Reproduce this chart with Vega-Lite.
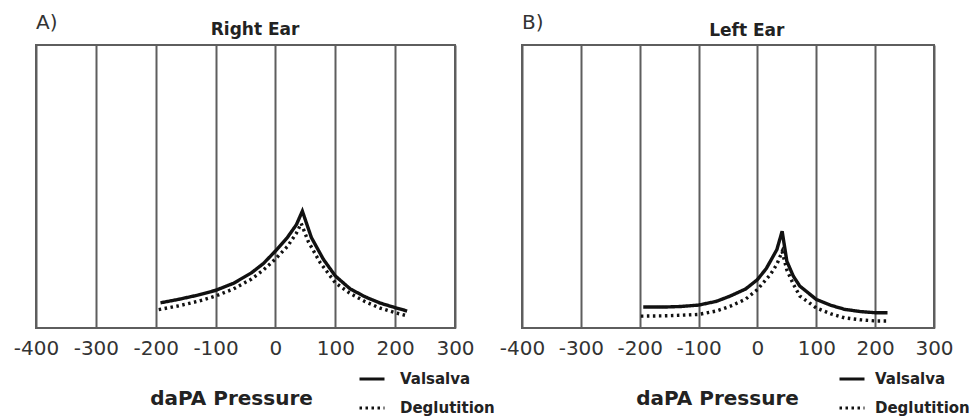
{
  "$schema": "https://vega.github.io/schema/vega-lite/v6.json",
  "autosize": {"type": "pad"},
  "padding": {"left": 12, "top": 12, "right": 0, "bottom": 0},
  "background": "white",
  "bounds": "flush",
  "config": {
    "view": {"stroke": "#5e5e5e", "strokeWidth": 2},
    "font": "DejaVu Sans"
  },
  "datasets": {
    "right": [
      {"p": -192, "v": 8.9, "s": "Valsalva"},
      {"p": -160, "v": 10.2, "s": "Valsalva"},
      {"p": -130, "v": 11.6, "s": "Valsalva"},
      {"p": -100, "v": 13.3, "s": "Valsalva"},
      {"p": -70, "v": 15.8, "s": "Valsalva"},
      {"p": -40, "v": 19.5, "s": "Valsalva"},
      {"p": -20, "v": 22.8, "s": "Valsalva"},
      {"p": 0, "v": 27.2, "s": "Valsalva"},
      {"p": 20, "v": 32.0, "s": "Valsalva"},
      {"p": 35, "v": 36.5, "s": "Valsalva"},
      {"p": 45, "v": 41.3, "s": "Valsalva"},
      {"p": 60, "v": 32.0, "s": "Valsalva"},
      {"p": 80, "v": 24.3, "s": "Valsalva"},
      {"p": 100, "v": 18.4, "s": "Valsalva"},
      {"p": 125, "v": 13.8, "s": "Valsalva"},
      {"p": 150, "v": 11.0, "s": "Valsalva"},
      {"p": 175, "v": 8.8, "s": "Valsalva"},
      {"p": 200, "v": 7.2, "s": "Valsalva"},
      {"p": 220, "v": 6.0, "s": "Valsalva"},
      {"p": -195, "v": 6.5, "s": "Deglutition"},
      {"p": -160, "v": 7.9, "s": "Deglutition"},
      {"p": -130, "v": 9.4, "s": "Deglutition"},
      {"p": -100, "v": 11.3, "s": "Deglutition"},
      {"p": -70, "v": 13.8, "s": "Deglutition"},
      {"p": -40, "v": 17.3, "s": "Deglutition"},
      {"p": -20, "v": 20.5, "s": "Deglutition"},
      {"p": 0, "v": 24.4, "s": "Deglutition"},
      {"p": 20, "v": 28.8, "s": "Deglutition"},
      {"p": 35, "v": 33.5, "s": "Deglutition"},
      {"p": 43, "v": 37.0, "s": "Deglutition"},
      {"p": 55, "v": 30.5, "s": "Deglutition"},
      {"p": 75, "v": 23.0, "s": "Deglutition"},
      {"p": 100, "v": 16.0, "s": "Deglutition"},
      {"p": 125, "v": 12.2, "s": "Deglutition"},
      {"p": 150, "v": 9.3, "s": "Deglutition"},
      {"p": 175, "v": 7.0, "s": "Deglutition"},
      {"p": 200, "v": 5.4, "s": "Deglutition"},
      {"p": 222, "v": 4.2, "s": "Deglutition"}
    ],
    "left": [
      {"p": -194, "v": 7.4, "s": "Valsalva"},
      {"p": -160, "v": 7.4, "s": "Valsalva"},
      {"p": -130, "v": 7.6, "s": "Valsalva"},
      {"p": -100, "v": 8.1, "s": "Valsalva"},
      {"p": -70, "v": 9.4, "s": "Valsalva"},
      {"p": -46, "v": 11.3, "s": "Valsalva"},
      {"p": -20, "v": 13.8, "s": "Valsalva"},
      {"p": 0, "v": 17.1, "s": "Valsalva"},
      {"p": 15, "v": 21.0, "s": "Valsalva"},
      {"p": 22, "v": 23.6, "s": "Valsalva"},
      {"p": 33, "v": 27.7, "s": "Valsalva"},
      {"p": 42, "v": 34.2, "s": "Valsalva"},
      {"p": 50, "v": 23.6, "s": "Valsalva"},
      {"p": 61, "v": 18.3, "s": "Valsalva"},
      {"p": 72, "v": 14.8, "s": "Valsalva"},
      {"p": 100, "v": 10.1, "s": "Valsalva"},
      {"p": 125, "v": 8.0, "s": "Valsalva"},
      {"p": 148, "v": 6.6, "s": "Valsalva"},
      {"p": 175, "v": 5.8, "s": "Valsalva"},
      {"p": 200, "v": 5.4, "s": "Valsalva"},
      {"p": 221, "v": 5.4, "s": "Valsalva"},
      {"p": -198, "v": 4.2, "s": "Deglutition"},
      {"p": -160, "v": 4.3, "s": "Deglutition"},
      {"p": -130, "v": 4.5, "s": "Deglutition"},
      {"p": -100, "v": 4.8, "s": "Deglutition"},
      {"p": -70, "v": 6.0, "s": "Deglutition"},
      {"p": -46, "v": 7.7, "s": "Deglutition"},
      {"p": -20, "v": 10.2, "s": "Deglutition"},
      {"p": 0, "v": 13.6, "s": "Deglutition"},
      {"p": 22, "v": 18.9, "s": "Deglutition"},
      {"p": 33, "v": 22.5, "s": "Deglutition"},
      {"p": 42, "v": 27.0, "s": "Deglutition"},
      {"p": 50, "v": 20.5, "s": "Deglutition"},
      {"p": 61, "v": 15.5, "s": "Deglutition"},
      {"p": 72, "v": 11.3, "s": "Deglutition"},
      {"p": 100, "v": 7.1, "s": "Deglutition"},
      {"p": 125, "v": 5.0, "s": "Deglutition"},
      {"p": 148, "v": 3.6, "s": "Deglutition"},
      {"p": 175, "v": 2.9, "s": "Deglutition"},
      {"p": 200, "v": 2.5, "s": "Deglutition"},
      {"p": 222, "v": 2.5, "s": "Deglutition"}
    ]
  },
  "spacing": 67,
  "resolve": {"legend": {"strokeDash": "independent"}, "scale": {"x": "independent", "y": "independent", "strokeDash": "independent"}},
  "hconcat": [
    {
      "width": 419,
      "height": 283,
      "layer": [
        {
          "data": {"name": "right"},
          "mark": {"type": "line", "color": "#111", "strokeWidth": 3.4},
          "encoding": {
            "x": {"field": "p", "type": "quantitative", "scale": {"domain": [-400, 300], "nice": false, "zero": false},
              "axis": {"values": [-400, -300, -200, -100, 0, 100, 200, 300], "labelExpr": "datum.value < 0 ? '-' + abs(datum.value) : '' + datum.value", "grid": true, "gridColor": "#5e5e5e", "gridWidth": 2, "gridOpacity": 1, "ticks": false, "domain": false, "labelFont": "DejaVu Sans", "labelFontSize": 20, "labelColor": "#333", "labelPadding": 10, "labelFlush": false, "labelOverlap": false, "title": "daPA Pressure", "titleFont": "DejaVu Sans", "titleFontSize": 20, "titleFontWeight": "bold", "titleColor": "#222", "titleX": 195, "titleY": 76, "titleAlign": "center", "titleBaseline": "alphabetic"}},
            "y": {"field": "v", "type": "quantitative", "scale": {"domain": [0, 100], "nice": false}, "axis": null},
            "strokeDash": {"field": "s", "type": "nominal", "scale": {"domain": ["Valsalva", "Deglutition"], "range": [[1, 0], [2.5, 3.5]]},
              "legend": {"orient": "none", "legendX": 322, "legendY": 320, "title": null, "symbolType": "stroke", "symbolSize": 625, "symbolStrokeWidth": 3, "symbolStrokeColor": "#111", "labelFont": "DejaVu Sans", "labelFontSize": 15, "labelFontWeight": "bold", "labelColor": "#222", "labelOffset": 14, "rowPadding": 7, "padding": 0}}
          }
        },
        {
          "data": {"values": [{"label": "A)"}]},
          "mark": {"type": "text", "align": "left", "baseline": "alphabetic", "font": "DejaVu Sans", "fontSize": 20, "color": "#333"},
          "encoding": {
            "x": {"datum": -400},
            "y": {"datum": 105.5},
            "text": {"field": "label"}
          }
        },
        {
          "data": {"values": [{"label": "Right Ear"}]},
          "mark": {"type": "text", "align": "center", "baseline": "alphabetic", "font": "DejaVu Sans", "fontSize": 17, "fontWeight": "bold", "color": "#222"},
          "encoding": {
            "x": {"datum": -34},
            "y": {"datum": 103.5},
            "text": {"field": "label"}
          }
        }
      ]
    },
    {
      "width": 412,
      "height": 283,
      "layer": [
        {
          "data": {"name": "left"},
          "mark": {"type": "line", "color": "#111", "strokeWidth": 3.4},
          "encoding": {
            "x": {"field": "p", "type": "quantitative", "scale": {"domain": [-400, 300], "nice": false, "zero": false},
              "axis": {"values": [-400, -300, -200, -100, 0, 100, 200, 300], "labelExpr": "datum.value < 0 ? '-' + abs(datum.value) : '' + datum.value", "grid": true, "gridColor": "#5e5e5e", "gridWidth": 2, "gridOpacity": 1, "ticks": false, "domain": false, "labelFont": "DejaVu Sans", "labelFontSize": 20, "labelColor": "#333", "labelPadding": 10, "labelFlush": false, "labelOverlap": false, "title": "daPA Pressure", "titleFont": "DejaVu Sans", "titleFontSize": 20, "titleFontWeight": "bold", "titleColor": "#222", "titleX": 195, "titleY": 76, "titleAlign": "center", "titleBaseline": "alphabetic"}},
            "y": {"field": "v", "type": "quantitative", "scale": {"domain": [0, 100], "nice": false}, "axis": null},
            "strokeDash": {"field": "s", "type": "nominal", "scale": {"domain": ["Valsalva", "Deglutition"], "range": [[1, 0], [2.5, 3.5]]},
              "legend": {"orient": "none", "legendX": 316, "legendY": 320, "title": null, "symbolType": "stroke", "symbolSize": 625, "symbolStrokeWidth": 3, "symbolStrokeColor": "#111", "labelFont": "DejaVu Sans", "labelFontSize": 15, "labelFontWeight": "bold", "labelColor": "#222", "labelOffset": 9, "rowPadding": 7, "padding": 0}}
          }
        },
        {
          "data": {"values": [{"label": "B)"}]},
          "mark": {"type": "text", "align": "left", "baseline": "alphabetic", "font": "DejaVu Sans", "fontSize": 20, "color": "#333"},
          "encoding": {
            "x": {"datum": -400},
            "y": {"datum": 105.5},
            "text": {"field": "label"}
          }
        },
        {
          "data": {"values": [{"label": "Left Ear"}]},
          "mark": {"type": "text", "align": "center", "baseline": "alphabetic", "font": "DejaVu Sans", "fontSize": 17, "fontWeight": "bold", "color": "#222"},
          "encoding": {
            "x": {"datum": -18},
            "y": {"datum": 103.2},
            "text": {"field": "label"}
          }
        }
      ]
    }
  ]
}
